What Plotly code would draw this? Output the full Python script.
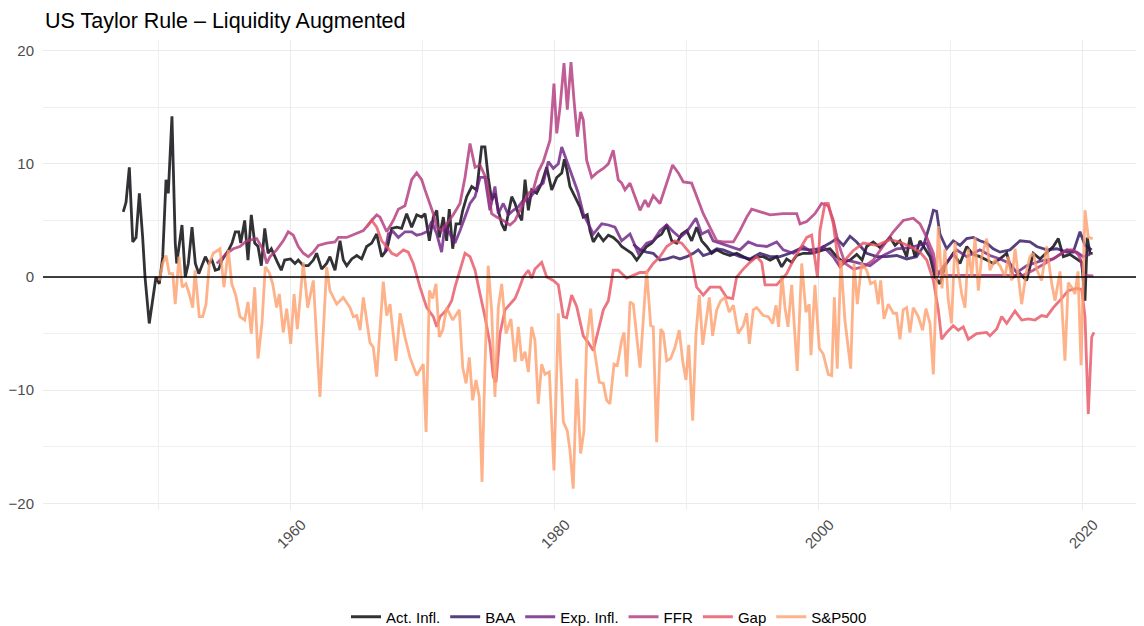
import plotly.graph_objects as go

# ---------------- data (decimal years, percent) ----------------
act_years = [1947.33, 1947.54, 1947.79, 1948.05, 1948.3, 1948.55, 1948.8, 1948.98, 1949.3, 1949.81,
             1950.06, 1950.32, 1950.57, 1950.74, 1951.02, 1951.27, 1951.38, 1951.78, 1952.03, 1952.26,
             1952.54, 1952.79, 1953.05, 1953.55, 1953.8, 1954.05, 1954.3, 1954.56, 1954.81, 1955.06,
             1955.32, 1955.57, 1955.82, 1956.08, 1956.23, 1956.53, 1956.78, 1957.03, 1957.29, 1957.54,
             1957.79, 1958.05, 1958.3, 1958.55, 1958.8, 1959.05, 1959.3, 1959.56, 1960.0, 1960.34,
             1960.59, 1960.97, 1961.35, 1961.73, 1961.98, 1962.36, 1962.74, 1962.99, 1963.37, 1963.75,
             1964.0, 1964.26, 1964.64, 1965.02, 1965.39, 1965.77, 1966.15, 1966.53, 1966.91, 1967.29,
             1967.67, 1968.05, 1968.42, 1968.8, 1969.18, 1969.56, 1969.94, 1970.19, 1970.52, 1970.82,
             1971.08, 1971.27, 1971.58, 1971.83, 1972.03, 1972.29, 1972.54, 1972.84, 1973.05, 1973.35,
             1973.73, 1974.11, 1974.48, 1974.73, 1974.98, 1975.24, 1975.49, 1975.74, 1976.0, 1976.25,
             1976.5, 1976.76, 1977.01, 1977.26, 1977.52, 1977.77, 1978.02, 1978.27, 1978.65, 1979.03,
             1979.41, 1979.79, 1980.17, 1980.55, 1980.75, 1980.95, 1981.17, 1981.55, 1981.93, 1982.18,
             1982.48, 1982.69, 1982.94, 1983.32, 1983.7, 1984.08, 1984.45, 1984.83, 1985.09, 1985.47,
             1985.85, 1986.23, 1986.61, 1986.98, 1987.36, 1987.74, 1988.12, 1988.5, 1988.88, 1989.26,
             1989.64, 1990.02, 1990.39, 1990.77, 1991.15, 1991.53, 1991.91, 1992.29, 1992.79, 1993.3,
             1993.8, 1994.3, 1994.81, 1995.32, 1995.82, 1996.33, 1996.83, 1997.21, 1997.59, 1997.97,
             1998.35, 1998.85, 1999.36, 1999.86, 2000.36, 2000.87, 2001.38, 2001.88, 2002.39, 2002.9,
             2003.3, 2003.65, 2004.15, 2004.66, 2005.42, 2005.8, 2006.17, 2006.68, 2006.93, 2007.31,
             2007.69, 2008.07, 2008.45, 2008.83, 2009.2, 2009.58, 2010.21, 2010.72, 2011.23, 2011.7,
             2012.23, 2012.74, 2013.24, 2013.75, 2014.26, 2014.76, 2015.27, 2015.77, 2016.27, 2016.78,
             2017.29, 2017.79, 2018.17, 2018.55, 2019.05, 2019.56, 2019.94, 2020.19, 2020.36, 2020.57,
             2020.77]
act_values = [5.75, 6.6, 9.7, 3.1, 3.5, 7.4, 3.5, 0.0, -4.1, 0.0,
              -0.6, 1.8, 8.6, 7.4, 14.2, 3.0, 1.2, 4.6, 0.0, 1.2,
              4.4, 1.2, 0.3, 1.8, 1.2, 1.5, 0.6, 0.7, 1.5, 1.9,
              2.4, 3.0, 4.0, 4.0, 3.0, 5.0, 1.5, 5.5, 3.0, 2.7,
              1.0, 4.3, 2.1, 2.5, 1.8, 1.2, 0.6, 1.5, 1.6, 1.2,
              1.5, 1.0, 1.0, 1.5, 2.1, 0.7, 1.2, 1.8, 0.6, 3.2,
              1.5, 1.0, 1.6, 1.9, 1.6, 2.7, 3.0, 3.8, 1.8, 2.4,
              4.3, 4.4, 4.3, 5.6, 4.4, 5.5, 5.3, 5.6, 3.2, 5.3,
              5.9, 3.5, 5.3, 3.2, 6.0, 2.5, 4.7, 4.7, 5.9, 7.1,
              8.0, 7.7, 11.5, 11.5, 8.8, 6.8, 7.4, 5.9, 4.7, 4.1,
              5.6, 7.1, 6.5, 5.6, 5.0, 8.6, 5.9, 7.7, 7.4, 8.3,
              9.7, 7.7, 8.8, 9.2, 10.4, 9.4, 8.0, 7.1, 6.2, 5.3,
              5.5, 4.1, 3.1, 3.8, 3.2, 3.7, 3.5, 3.1, 2.7, 2.4,
              2.1, 1.5, 2.1, 2.7, 3.0, 3.5, 3.8, 4.6, 3.2, 3.0,
              3.8, 4.1, 3.2, 4.4, 3.2, 2.7, 2.1, 2.4, 2.1, 1.9,
              2.1, 1.8, 1.5, 1.8, 1.8, 1.5, 1.8, 0.9, 1.6, 1.3,
              1.9, 2.1, 2.1, 2.2, 2.4, 2.5, 1.8, 1.3, 1.5, 2.0,
              1.5, 2.7, 3.1, 2.6, 3.5, 2.8, 3.2, 1.8, 3.5, 1.8,
              3.2, 2.5, 1.8, 0.0, -0.6, 1.0, 2.1, 1.2, 2.7, 2.0,
              1.8, 1.5, 1.2, 1.6, 2.1, 0.0, 0.3, -0.3, 2.1, 1.6,
              2.2, 2.7, 3.4, 1.8, 2.0, 1.6, 1.3, -2.1, 3.5, 2.1,
              2.1]

baa_years = [1985.97, 1986.48, 1986.98, 1987.48, 1987.99, 1988.5, 1989.0, 1989.51, 1990.02, 1990.52,
             1990.89, 1991.27, 1991.78, 1992.29, 1992.79, 1993.42, 1994.05, 1994.81, 1995.57, 1996.33,
             1997.08, 1997.84, 1998.6, 1999.36, 2000.11, 2000.87, 2001.38, 2001.88, 2002.39, 2002.89,
             2003.65, 2004.41, 2005.17, 2005.92, 2006.68, 2007.43, 2007.94, 2008.45, 2008.7, 2008.95,
             2009.2, 2009.71, 2010.21, 2010.72, 2011.23, 2011.73, 2012.23, 2012.74, 2013.24, 2013.75,
             2014.51, 2015.27, 2016.02, 2016.53, 2017.29, 2018.05, 2018.8, 2019.3, 2019.81, 2020.19,
             2020.7]
baa_values = [2.9, 2.4, 2.2, 2.1, 1.5, 1.6, 1.8, 1.6, 1.8, 2.1,
              2.4, 1.9, 2.1, 2.5, 2.4, 2.1, 1.8, 1.6, 2.1, 1.8,
              1.8, 2.1, 2.5, 2.4, 2.5, 3.0, 3.4, 2.8, 3.6, 3.1,
              2.1, 1.8, 1.8, 1.9, 1.6, 1.8, 2.7, 4.7, 5.9, 5.8,
              3.8, 2.5, 3.2, 2.8, 3.4, 3.5, 3.2, 3.0, 2.5, 2.2,
              2.4, 3.2, 3.1, 2.7, 2.4, 2.5, 2.2, 2.2, 4.0, 2.8,
              2.4]

exp_years = [1967.16, 1967.41, 1967.79, 1968.17, 1968.67, 1969.18, 1969.56, 1969.94, 1970.32, 1970.7,
             1971.08, 1971.45, 1971.7, 1972.08, 1972.46, 1972.84, 1973.22, 1973.6, 1973.98, 1974.36,
             1974.73, 1975.11, 1975.49, 1975.74, 1976.12, 1976.5, 1976.88, 1977.26, 1977.64, 1978.02,
             1978.39, 1978.77, 1979.15, 1979.53, 1979.91, 1980.29, 1980.55, 1980.92, 1981.42, 1981.78,
             1982.18, 1982.94, 1983.58, 1984.08, 1984.58, 1985.09, 1985.72, 1986.35, 1986.98, 1987.48,
             1987.99, 1988.5, 1989.0, 1989.5, 1990.02, 1990.72, 1991.15, 1991.65, 1992.02, 1992.54,
             1993.3, 1994.05, 1994.68, 1995.32, 1996.08, 1996.83, 1997.33, 1998.09, 1998.85, 1999.61,
             2000.36, 2001.12, 2001.63, 2002.14, 2003.14, 2003.9, 2004.91, 2005.92, 2006.93, 2008.2,
             2008.58, 2008.95, 2009.45, 2010.47, 2011.23, 2012.23, 2012.99, 2013.75, 2014.5, 2015.02,
             2015.77, 2016.78, 2017.79, 2018.8, 2019.56, 2020.06, 2020.57]
exp_values = [2.2, 3.8, 4.0, 3.5, 4.0, 4.0, 3.7, 3.8, 4.0, 4.9,
              3.8, 2.2, 4.6, 3.8, 3.0, 4.1, 5.3, 6.5, 7.1, 8.8,
              8.8, 5.9, 8.0, 5.6, 6.5, 5.5, 5.9, 6.2, 6.8, 6.8,
              7.4, 8.0, 8.3, 10.2, 9.6, 10.0, 11.5, 10.3, 8.6, 7.5,
              5.6, 3.8, 4.7, 4.6, 4.4, 3.2, 3.8, 2.1, 3.0, 3.2,
              4.1, 4.6, 4.0, 3.5, 4.0, 5.2, 3.8, 4.1, 3.2, 3.0,
              2.7, 2.4, 3.1, 2.8, 2.7, 3.1, 2.4, 2.1, 2.7, 2.1,
              2.7, 1.8, 0.9, 1.5, 1.2, 1.0, 1.9, 2.5, 2.6, 3.0,
              1.8, 0.0, 0.9, 2.4, 1.8, 2.4, 1.9, 1.6, 1.2, 0.4,
              1.0, 1.4, 1.6, 2.4, 2.2, 1.8, 2.0]

ffr_years = [1954.41, 1955.17, 1955.67, 1956.17, 1956.68, 1957.44, 1957.94, 1958.2, 1958.45, 1958.95,
             1959.45, 1959.83, 1960.21, 1960.59, 1960.97, 1961.35, 1961.73, 1962.11, 1962.74, 1963.37,
             1963.62, 1964.26, 1964.89, 1965.52, 1966.15, 1966.53, 1966.78, 1967.29, 1967.79, 1968.17,
             1968.67, 1969.18, 1969.56, 1969.94, 1970.19, 1970.44, 1970.82, 1971.08, 1971.45, 1971.83,
             1972.33, 1972.84, 1973.22, 1973.6, 1973.98, 1974.36, 1974.86, 1975.24, 1975.62, 1976.12,
             1976.63, 1977.01, 1977.52, 1978.02, 1978.39, 1978.77, 1979.15, 1979.66, 1979.96, 1980.17,
             1980.42, 1980.72, 1980.97, 1981.25, 1981.48, 1981.73, 1981.98, 1982.18, 1982.44, 1982.82,
             1983.2, 1983.7, 1984.08, 1984.45, 1984.83, 1985.09, 1985.34, 1985.72, 1986.1, 1986.48,
             1986.86, 1987.11, 1987.48, 1987.99, 1988.5, 1988.95, 1989.38, 1989.76, 1990.39, 1990.77,
             1991.27, 1991.78, 1992.29, 1992.79, 1993.55, 1994.05, 1994.56, 1994.94, 1995.57, 1996.33,
             1997.33, 1998.35, 1998.6, 1999.11, 1999.73, 2000.24, 2000.74, 2001.12, 2001.5, 2002.01,
             2002.64, 2003.39, 2004.15, 2004.91, 2005.67, 2006.42, 2007.18, 2007.69, 2008.2, 2008.7,
             2008.95, 2009.45, 2015.5, 2016.27, 2017.16, 2018.05, 2018.8, 2019.28, 2019.66, 2019.85,
             2020.11, 2020.82]
ffr_values = [1.2, 2.1, 2.5, 2.7, 3.2, 3.4, 2.4, 1.2, 1.8, 2.4,
              3.2, 4.0, 3.7, 2.7, 2.1, 1.8, 2.2, 2.8, 3.0, 3.1,
              3.5, 3.5, 3.8, 4.1, 5.0, 5.5, 5.3, 4.0, 5.0, 6.0,
              6.3, 8.6, 9.2, 8.6, 7.7, 6.8, 5.6, 4.4, 4.1, 4.7,
              5.5, 6.5, 8.8, 11.8, 9.7, 9.9, 8.6, 5.6, 5.3, 5.0,
              4.6, 5.0, 6.2, 7.4, 7.7, 9.3, 10.2, 12.1, 17.1, 12.7,
              15.0, 18.9, 14.8, 19.0, 15.6, 12.4, 14.6, 13.9, 10.3, 8.8,
              9.2, 9.6, 10.0, 11.2, 8.6, 8.3, 7.7, 8.3, 7.1, 5.9,
              6.8, 6.2, 7.2, 6.5, 8.3, 9.9, 9.2, 8.4, 8.3, 7.1,
              5.6, 4.4, 3.2, 3.1, 3.1, 4.1, 5.3, 6.0, 5.8, 5.5,
              5.6, 5.6, 4.7, 4.9, 5.6, 6.5, 6.3, 5.0, 3.0, 1.2,
              0.7, 0.9, 1.5, 2.7, 4.0, 5.0, 5.2, 4.7, 3.5, 2.1,
              0.6, 0.15, 0.15, 0.6, 1.2, 1.8, 2.4, 2.4, 2.0, 1.6,
              0.15, 0.1]

gap_years = [1965.77, 1966.15, 1966.53, 1966.91, 1967.29, 1967.67, 1968.05, 1968.55, 1968.92, 1969.3,
             1969.6, 1969.81, 1970.32, 1970.82, 1971.08, 1971.33, 1971.83, 1972.21, 1972.46, 1972.84,
             1973.22, 1973.6, 1973.98, 1974.36, 1974.73, 1975.11, 1975.36, 1975.57, 1975.87, 1976.25,
             1976.63, 1977.01, 1977.26, 1977.64, 1978.02, 1978.27, 1978.52, 1979.03, 1979.41, 1979.91,
             1980.29, 1980.67, 1980.92, 1981.3, 1981.68, 1982.18, 1982.56, 1982.94, 1983.32, 1983.7,
             1984.08, 1984.45, 1984.83, 1985.47, 1985.97, 1986.48, 1986.98, 1987.48, 1987.99, 1988.5,
             1989.13, 1989.64, 1990.27, 1990.77, 1991.27, 1991.78, 1992.54, 1993.05, 1993.5, 1993.8,
             1994.3, 1994.81, 1995.32, 1995.7, 1995.95, 1996.83, 1997.59, 1998.09, 1998.6, 1999.11,
             1999.48, 1999.73, 1999.92, 2000.11, 2000.49, 2000.74, 2001.12, 2001.38, 2001.63, 2002.01,
             2002.6, 2003.39, 2004.41, 2005.42, 2006.17, 2006.93, 2007.69, 2008.2, 2008.7, 2009.08,
             2009.33, 2009.71, 2010.21, 2010.59, 2010.97, 2011.35, 2011.98, 2012.74, 2012.99, 2013.5,
             2013.88, 2014.26, 2014.89, 2015.39, 2015.89, 2016.4, 2016.9, 2017.29, 2017.79, 2018.42,
             2018.92, 2019.56, 2019.94, 2020.19, 2020.44, 2020.7, 2020.87]
gap_values = [4.4, 5.0, 4.4, 3.2, 2.7, 2.1, 1.9, 2.4, 2.2, 1.2,
              0.0, -0.9, -2.7, -3.5, -4.4, -3.5, -2.9, -2.1, -0.9, 0.6,
              2.1, 1.8, 0.6, -1.5, -3.5, -5.9, -8.8, -9.3, -5.0, -2.9,
              -2.4, -1.9, -1.2, 0.0, 0.6, -0.1, 0.7, 1.3, 0.0, -0.3,
              -0.7, -3.5, -3.6, -1.6, -2.6, -5.2, -5.8, -6.5, -4.7, -2.9,
              -2.1, 0.6, 0.6, -0.1, 0.15, 0.4, 0.4, 1.2, 1.8, 2.7,
              3.2, 3.0, 2.1, -0.9, -1.6, -0.9, -0.9, -1.8, -1.9, 0.0,
              0.7, 1.3, 1.8, 1.3, -0.7, -0.7, 0.3, 1.5, 2.5, 3.5,
              3.7, 1.8, 0.0, 4.1, 6.5, 6.5, 4.7, 2.4, 0.9, 1.5,
              2.3, 3.0, 2.8, 3.3, 3.1, 2.7, 2.2, 1.5, -0.3, -2.9,
              -5.5, -4.9, -4.3, -4.7, -4.4, -5.5, -5.0, -4.9, -5.2, -4.6,
              -3.5, -4.1, -3.0, -3.8, -3.7, -3.8, -3.4, -3.5, -2.7, -1.9,
              -1.2, -1.0, -1.1, -3.5, -12.1, -5.3, -4.9]

sp_years = [1950.06, 1950.32, 1950.57, 1950.82, 1951.08, 1951.27, 1951.55, 1951.8, 1952.08, 1952.33,
            1952.59, 1952.77, 1953.09, 1953.35, 1953.6, 1953.85, 1954.15, 1954.66, 1954.96, 1955.29,
            1955.55, 1955.85, 1956.17, 1956.53, 1956.78, 1957.03, 1957.29, 1957.54, 1957.84, 1958.09,
            1958.39, 1958.65, 1958.95, 1959.15, 1959.45, 1959.71, 1960.02, 1960.27, 1960.52, 1960.97,
            1961.3, 1961.73, 1962.23, 1962.74, 1962.99, 1963.5, 1964.0, 1964.51, 1964.76, 1965.02,
            1965.27, 1965.52, 1966.02, 1966.27, 1966.53, 1967.03, 1967.29, 1967.54, 1967.99, 1968.3,
            1968.67, 1969.05, 1969.56, 1970.06, 1970.27, 1970.52, 1970.77, 1971.02, 1971.27, 1971.53,
            1971.83, 1972.29, 1972.79, 1973.05, 1973.3, 1973.55, 1973.8, 1974.05, 1974.3, 1974.51,
            1974.73, 1974.98, 1975.24, 1975.49, 1975.74, 1976.0, 1976.33, 1976.7, 1977.01, 1977.26,
            1977.52, 1977.77, 1978.02, 1978.27, 1978.52, 1978.77, 1979.03, 1979.28, 1979.61, 1979.96,
            1980.29, 1980.67, 1980.97, 1981.17, 1981.42, 1981.68, 1981.98, 1982.23, 1982.44, 1982.74,
            1982.99, 1983.39, 1983.7, 1983.95, 1984.2, 1984.51, 1984.76, 1985.09, 1985.27, 1985.47,
            1985.72, 1985.97, 1986.48, 1986.98, 1987.29, 1987.48, 1987.74, 1988.05, 1988.24, 1988.5,
            1988.8, 1989.13, 1989.45, 1989.71, 1989.96, 1990.17, 1990.47, 1990.72, 1990.97, 1991.23,
            1991.53, 1991.73, 1991.98, 1992.29, 1992.59, 1992.92, 1993.24, 1993.55, 1993.92, 1994.3,
            1994.56, 1994.76, 1995.06, 1995.32, 1995.82, 1996.2, 1996.53, 1996.78, 1996.98, 1997.23,
            1997.46, 1997.69, 1997.97, 1998.39, 1998.73, 1999.05, 1999.3, 1999.43, 1999.73, 2000.06,
            2000.36, 2000.74, 2001.0, 2001.2, 2001.42, 2001.7, 2002.0, 2002.44, 2002.69, 2002.94,
            2003.27, 2003.65, 2003.95, 2004.28, 2004.53, 2004.71, 2004.96, 2005.29, 2005.67, 2005.92,
            2006.17, 2006.42, 2006.68, 2006.93, 2007.18, 2007.56, 2007.89, 2008.14, 2008.45, 2008.7,
            2009.08, 2009.36, 2009.58, 2009.83, 2010.08, 2010.34, 2010.59, 2010.85, 2011.1, 2011.35,
            2011.61, 2011.86, 2012.11, 2012.36, 2012.74, 2012.99, 2013.37, 2013.75, 2014.13, 2014.38,
            2014.64, 2014.89, 2015.39, 2015.77, 2016.02, 2016.27, 2016.55, 2016.9, 2017.29, 2017.67,
            2017.92, 2018.3, 2018.67, 2018.92, 2019.18, 2019.43, 2019.66, 2019.89, 2020.19, 2020.44,
            2020.77]
sp_values = [-0.3, 1.2, 1.9, 0.3, 0.3, -2.4, 1.8, -0.9, -0.6, -1.5,
             -2.7, 0.6, -3.5, -3.5, -2.4, 1.2, 2.1, 2.5, -0.9, 2.4,
             -0.6, -1.6, -3.5, -3.8, -2.2, -5.0, -0.9, -7.2, -4.1, 0.9,
             0.4, -0.6, -2.7, -1.5, -4.9, -2.8, -5.9, -1.5, -4.6, 1.3,
             -2.7, -0.3, -10.6, 0.9, -1.2, -2.4, -1.8, -2.7, -3.5, -3.4,
             -4.7, -1.8, -5.8, -6.2, -8.8, -0.4, -3.4, -2.4, -7.4, -3.2,
             -5.3, -7.1, -8.7, -7.7, -13.7, -1.2, -1.9, -0.6, -5.3, -4.7,
             -2.7, -3.8, -2.9, -8.0, -9.4, -7.1, -10.9, -9.1, -10.6, -18.1,
             -8.0, 1.0, -3.0, -10.6, -2.7, -0.6, -5.0, -3.7, -7.5, -4.4,
             -7.4, -6.6, -8.4, -4.4, -5.6, -11.2, -7.7, -8.6, -8.4, -17.1,
             -3.2, -12.8, -13.6, -15.3, -18.7, -9.0, -15.6, -13.6, -5.6, -2.8,
             -6.2, -9.3, -9.4, -10.9, -11.2, -7.7, -7.8, -5.6, -4.9, -8.8,
             -2.2, -2.4, -8.0, 0.6, -4.3, -4.4, -14.6, -4.6, -4.9, -7.4,
             -7.2, -6.2, -4.7, -7.4, -9.1, -6.0, -12.7, -5.0, -1.6, -6.0,
             -3.5, -1.8, -5.2, -2.9, -2.1, -1.8, -3.1, -2.5, -5.0, -4.3,
             -3.2, -5.9, -2.9, -2.7, -3.4, -3.5, -4.1, -2.5, -4.4, 0.15,
             -2.7, -4.4, -0.7, -8.3, 1.2, -3.1, -2.4, -6.9, -0.7, -6.3,
             -6.8, -8.6, -8.7, -1.8, -8.1, 1.5, -3.8, -8.1, 1.2, -2.4,
             1.2, 0.6, -0.6, -0.4, -2.4, -0.3, -3.7, -2.4, -3.2, -3.2,
             -5.5, -2.9, -2.7, -4.9, -2.7, -3.5, -4.7, -2.8, -4.1, -8.6,
             4.5, -1.0, 2.5, -2.0, -4.1, 3.1, 0.5, -1.5, -2.7, 2.5,
             0.0, 3.5, -1.2, 1.8, 3.4, 0.6, 1.5, 1.0, 0.0, 1.8,
             -0.3, 2.5, -2.4, 0.6, 1.8, 2.1, 0.6, -0.3, 2.7, -0.6,
             -2.1, 0.5, -7.4, -0.5, -0.9, -1.5, 0.5, -7.8, 5.9, 3.5,
             3.4]

series_names = ["Act. Infl.", "BAA", "Exp. Infl.", "FFR", "Gap", "S&P500"]
series_x = [act_years, baa_years, exp_years, ffr_years, gap_years, sp_years]
series_y = [act_values, baa_values, exp_values, ffr_values, gap_values, sp_values]
# magma palette, 6 steps from 0 to 0.8
colors = ["#000004", "#2C115F", "#6B1D81", "#B1357B", "#E85362", "#FE9F6D"]

x_ticks = [1960, 1980, 2000, 2020]
y_ticks = [-20, -10, 0, 10, 20]

FONT = "Liberation Sans, Arial, Helvetica, sans-serif"

# The page body has an 8 px margin, so the figure is laid out 8 px smaller.
FIG_W, FIG_H = 1136, 618
M_L, M_R, M_T, M_B = 35, 7, 32, 116
PLOT_H = FIG_H - M_T - M_B
PLOT_W = FIG_W - M_L - M_R

fig = go.Figure()
for name, xs, ys, col in zip(series_names, series_x, series_y, colors):
    fig.add_trace(go.Scatter(
        x=xs, y=ys, name=name, mode="lines",
        line=dict(color=col, width=2.8),
        opacity=0.8,
    ))

fig.add_shape(type="line", xref="paper", yref="y", x0=0, x1=1, y0=0, y1=0,
              line=dict(color="black", width=1.6), layer="above")

fig.update_layout(
    width=FIG_W, height=FIG_H,
    paper_bgcolor="white", plot_bgcolor="white",
    margin=dict(l=M_L, r=M_R, t=M_T, b=M_B, autoexpand=False),
    font=dict(family=FONT, color="#4D4D4D", size=13),
    title=dict(text="US Taylor Rule \u2013 Liquidity Augmented",
               xref="container", x=37 / FIG_W, xanchor="left",
               yref="container", y=1 - 12 / FIG_H, yanchor="middle",
               font=dict(family=FONT, size=21.5, color="black")),
    showlegend=True,
    legend=dict(orientation="h", xref="paper", x=(601 - M_L) / PLOT_W, xanchor="center",
                yref="paper", y=-(609 - (FIG_H - M_B)) / PLOT_H, yanchor="middle",
                font=dict(family=FONT, size=15, color="black"),
                itemwidth=30, tracegroupgap=0),
)

fig.update_xaxes(
    range=[1941.25, 2024.13], tickmode="array", tickvals=x_ticks,
    ticktext=[str(v) for v in x_ticks], tickangle=-45, automargin=False,
    showgrid=True, gridcolor="#EBEBEB", gridwidth=1.3,
    minor=dict(dtick=10, tick0=1950, showgrid=True, gridcolor="#EFEFEF", gridwidth=0.8),
    zeroline=False, showline=False, ticks="",
    tickfont=dict(family=FONT, size=15, color="#4D4D4D"),
    ticklabelshift=11, ticklabelstandoff=2,
)
fig.update_yaxes(
    range=[-20.59, 20.95], tickmode="array", tickvals=y_ticks, automargin=False,
    showgrid=True, gridcolor="#EBEBEB", gridwidth=1.3,
    minor=dict(dtick=5, tick0=-15, showgrid=True, gridcolor="#EFEFEF", gridwidth=0.8),
    zeroline=False, showline=False, ticks="",
    tickfont=dict(family=FONT, size=15, color="#4D4D4D"),
    ticklabelstandoff=8,
)

fig.write_html("out.html")
